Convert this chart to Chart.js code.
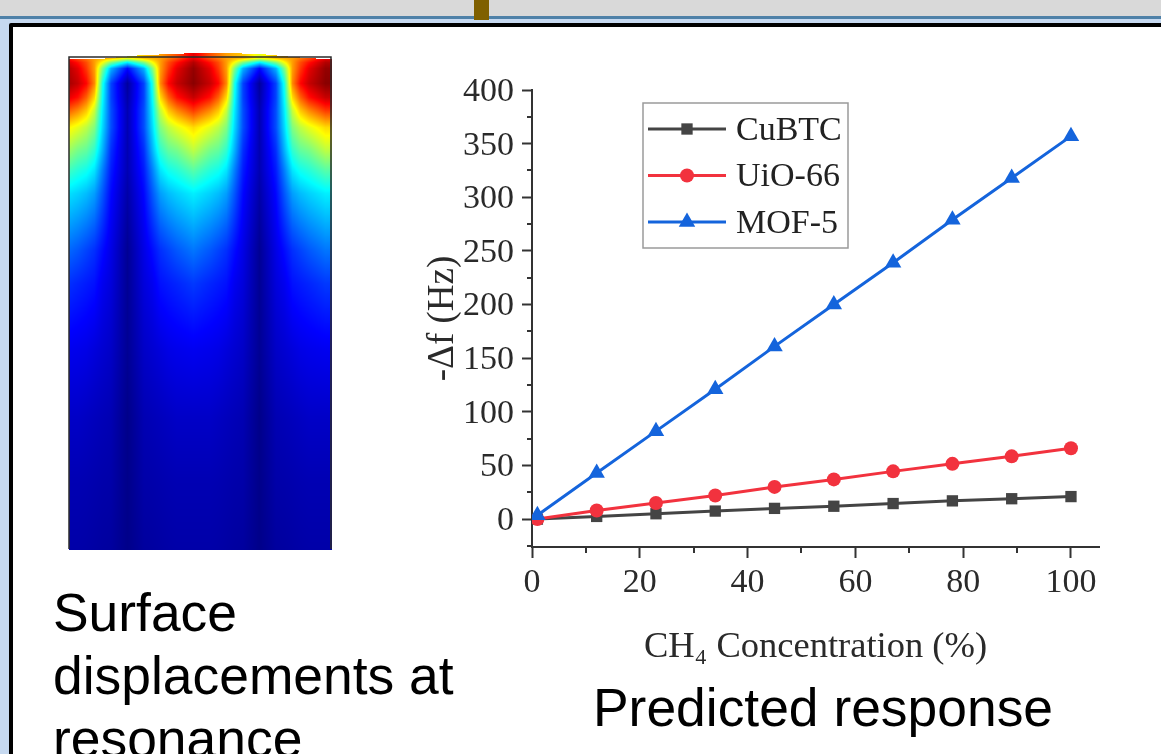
<!DOCTYPE html>
<html>
<head>
<meta charset="utf-8">
<title>Predicted response</title>
<script src="https://cdn.jsdelivr.net/npm/chart.js@4/dist/chart.umd.min.js"></script>
<style>
  html, body { margin: 0; width: 1161px; height: 754px; overflow: hidden; background: #c6d9f0; }
  #topbar { position: absolute; left: 0; top: 0; width: 1161px; height: 16px; background: #d9d9d9; border-bottom: 3px solid #4f81a8; }
  #tab { position: absolute; left: 474px; top: 0; width: 15px; height: 20px; background: #7f6000; }
  #frame { position: absolute; left: 9px; top: 23px; width: 1200px; height: 800px; background: #fff; border: 4px solid #000; border-radius: 2px; }
  canvas { position: absolute; }
  #heat { left: 67px; top: 53px; filter: blur(0.6px); }
  #response { left: 420px; top: 60px; filter: blur(0.7px); }
  .caption { position: absolute; font-family: "Liberation Sans", Arial, sans-serif; font-size: 53.4px; line-height: 63px; color: #000; }
  #cap1 { left: 53px; top: 581px; width: 420px; }
  #cap2 { left: 593px; top: 676px; white-space: nowrap; }
</style>
</head>
<body>
<div id="topbar"></div>
<div id="tab"></div>
<div id="frame"></div>
<canvas id="heat" width="266" height="497"></canvas>
<canvas id="response" width="700" height="640"></canvas>
<div class="caption" id="cap1">Surface displacements at resonance</div>
<div class="caption" id="cap2">Predicted response</div>

<script>
// values
const concentration = [1, 12, 23, 34, 45, 56, 67, 78, 89, 100];
const cubtc = [0, 2.5, 5, 7.5, 10, 12, 14.5, 17, 19, 21];
const uio66 = [0, 8, 15, 22, 30, 37, 44.5, 51.5, 58.5, 66];
const mof5 = [3.6, 43, 82, 121, 161, 200, 239, 279, 318, 357];

const xMajorTicks = [0, 20, 40, 60, 80, 100];
const xMinorTicks = [10, 30, 50, 70, 90];
const yMajorTicks = [0, 50, 100, 150, 200, 250, 300, 350, 400];
const yMinorTicks = [-25, 25, 75, 125, 175, 225, 275, 325, 375];

// displacement panel: depth below the surface, distance from the nearest node, colour level 0..1
const heatDepths = [1, 5, 11, 26, 40, 53, 70, 93, 113, 136, 193, 226, 293, 360, 426, 492];
const heatOffsets = [0, 16.5, 25, 33, 41, 49.5, 66];
const heatNodes = [58, 190];
const heatLevels = [
  [.60, .36, .13, .03, .04, .05, .05, .05, .05, .04, .02, .02, .02, .01, .01, .01],
  [.68, .50, .30, .19, .19, .20, .20, .17, .15, .13, .10, .09, .07, .05, .04, .03],
  [.70, .62, .50, .40, .38, .36, .34, .30, .25, .21, .135, .11, .08, .055, .042, .032],
  [.72, .72, .72, .74, .66, .57, .50, .42, .35, .28, .17, .14, .09, .06, .045, .035],
  [.76, .80, .82, .87, .78, .68, .56, .47, .39, .31, .19, .15, .10, .065, .048, .038],
  [.80, .86, .90, .93, .86, .74, .60, .49, .41, .33, .21, .16, .105, .07, .05, .04],
  [.90, .95, .98, .99, .93, .82, .66, .56, .46, .36, .24, .18, .11, .07, .05, .04]
];
// deformed top edge of the panel
const surfaceCross = [0, 36, 68, 100, 130, 160, 196, 230, 262];
const surfaceDepth = [3, 2, -1, -2.5, -3.5, -3.5, -2, 1, 3];

const SERIF = '"Liberation Serif", "Times New Roman", serif';
const AXIS = '#333';

function jet(v) {
  const ch = c => Math.max(0, Math.min(1, 1.5 - Math.abs(4 * v - c))) * 255;
  return [ch(3), ch(2), ch(1)];
}

function lookup(list, v) {
  let i = 0;
  while (i < list.length - 2 && list[i + 1] < v) i++;
  const t = (v - list[i]) / (list[i + 1] - list[i]);
  return [i, Math.max(0, Math.min(1, t))];
}

function heatAt(cross, depth) {
  const off = Math.min(...heatNodes.map(n => Math.abs(cross - n)));
  const [c, tc] = lookup(heatOffsets, Math.min(off, 66));
  const [r, tr] = lookup(heatDepths, depth);
  const top = heatLevels[c][r] * (1 - tc) + heatLevels[c + 1][r] * tc;
  const bot = heatLevels[c][r + 1] * (1 - tc) + heatLevels[c + 1][r + 1] * tc;
  return top * (1 - tr) + bot * tr;
}

function surfaceAt(cross) {
  const [i, t] = lookup(surfaceCross, cross);
  return surfaceDepth[i] * (1 - t) + surfaceDepth[i + 1] * t;
}

const heatRaster = {
  id: 'heatRaster',
  beforeDatasetsDraw(chart) {
    const { ctx, chartArea: a, scales } = chart;
    const w = Math.round(a.right - a.left), h = Math.round(a.bottom - a.top);
    const img = ctx.createImageData(w, h);
    for (let py = 0; py < h; py++) {
      const depth = scales.y.getValueForPixel(a.top + py);
      for (let px = 0; px < w; px++) {
        const cross = scales.x.getValueForPixel(a.left + px);
        if (cross < 0 || cross > 262 || depth > 492 || depth < surfaceAt(cross) - 1) continue;
        const rgb = jet(heatAt(cross, depth));
        const o = (py * w + px) * 4;
        img.data[o] = rgb[0]; img.data[o + 1] = rgb[1]; img.data[o + 2] = rgb[2]; img.data[o + 3] = 255;
      }
    }
    ctx.putImageData(img, a.left, a.top);

    // undeformed outline: left, top, right
    const left = scales.x.getPixelForValue(0), right = scales.x.getPixelForValue(262);
    const top = scales.y.getPixelForValue(0), bottom = scales.y.getPixelForValue(492);
    ctx.save();
    ctx.strokeStyle = '#2b2b2b';
    ctx.lineWidth = 1.5;
    ctx.beginPath();
    ctx.moveTo(left, bottom);
    ctx.lineTo(left, top);
    ctx.lineTo(right, top);
    ctx.lineTo(right, bottom);
    ctx.stroke();
    ctx.restore();
  }
};

new Chart(document.getElementById('heat'), {
  type: 'scatter',
  data: { datasets: [] },
  options: {
    responsive: false,
    animation: false,
    layout: { padding: 0 },
    plugins: { legend: { display: false }, tooltip: { enabled: false } },
    scales: {
      x: { display: false, min: -2, max: 264 },
      y: { display: false, min: -4, max: 493, reverse: true }
    }
  },
  plugins: [heatRaster]
});

// short ticks between the labelled ones
const minorTicks = {
  id: 'minorTicks',
  afterDraw(chart) {
    const { ctx, chartArea: a, scales } = chart;
    ctx.save();
    ctx.strokeStyle = AXIS;
    ctx.lineWidth = 2;
    ctx.beginPath();
    yMinorTicks.forEach(v => {
      const y = Math.round(scales.y.getPixelForValue(v));
      ctx.moveTo(a.left - 5, y);
      ctx.lineTo(a.left, y);
    });
    xMinorTicks.forEach(v => {
      const x = Math.round(scales.x.getPixelForValue(v));
      ctx.moveTo(x, a.bottom);
      ctx.lineTo(x, a.bottom + 6);
    });
    ctx.stroke();
    ctx.restore();
  }
};

// legend box with line + marker samples, the built-in one can't draw both
const lineLegend = {
  id: 'lineLegend',
  afterDraw(chart) {
    const { ctx } = chart;
    ctx.save();
    ctx.strokeStyle = '#9a9a9a';
    ctx.lineWidth = 1.5;
    ctx.strokeRect(223, 43, 205, 145);
    ctx.font = '34px ' + SERIF;
    ctx.textBaseline = 'middle';
    chart.data.datasets.forEach((ds, i) => {
      const y = 69 + i * 46.5;
      ctx.strokeStyle = ds.borderColor;
      ctx.lineWidth = ds.borderWidth;
      ctx.beginPath();
      ctx.moveTo(228, y);
      ctx.lineTo(306, y);
      ctx.stroke();
      ctx.fillStyle = ds.pointBackgroundColor;
      ctx.strokeStyle = ds.pointBackgroundColor;
      Chart.helpers.drawPoint(ctx, { pointStyle: ds.pointStyle, radius: ds.pointRadius, rotation: 0, borderWidth: 0 }, 267, y);
      ctx.fillStyle = '#222';
      ctx.fillText(ds.label, 316, y + 2);
    });
    ctx.restore();
  }
};

function series(label, data, color, pointStyle, pointRadius, order) {
  return {
    label,
    data: data.map((y, i) => ({ x: concentration[i], y })),
    borderColor: color,
    borderWidth: 3,
    pointBackgroundColor: color,
    pointBorderColor: color,
    pointBorderWidth: 0,
    pointStyle,
    pointRadius,
    order,
    showLine: true,
    tension: 0
  };
}

new Chart(document.getElementById('response'), {
  type: 'scatter',
  data: {
    datasets: [
      series('CuBTC', cubtc, '#444444', 'rect', 8, 3),
      series('UiO-66', uio66, '#f2323e', 'circle', 7, 2),
      series('MOF-5', mof5, '#1464dc', 'triangle', 9.5, 1)
    ]
  },
  options: {
    responsive: false,
    animation: false,
    layout: { padding: { top: 30, right: 21, left: 0, bottom: 0 } },
    plugins: { legend: { display: false }, tooltip: { enabled: false } },
    scales: {
      x: {
        type: 'linear',
        min: 0,
        max: 105.2,
        afterFit: s => { s.height = 153; },
        afterBuildTicks: s => { s.ticks = xMajorTicks.map(value => ({ value })); },
        border: { color: AXIS, width: 2 },
        grid: { drawOnChartArea: false, tickColor: AXIS, tickWidth: 2, tickLength: 11 },
        ticks: { color: '#2a2a2a', font: { family: SERIF, size: 34 }, padding: 5, maxRotation: 0, autoSkip: false },
        title: { display: true, text: 'CH₄ Concentration (%)', color: '#2a2a2a', font: { family: SERIF, size: 36.5 }, padding: { top: 0, bottom: 31 } }
      },
      y: {
        type: 'linear',
        min: -26,
        max: 400,
        afterFit: s => { s.width = 112; },
        afterBuildTicks: s => { s.ticks = yMajorTicks.map(value => ({ value })); },
        border: { color: AXIS, width: 2 },
        grid: { drawOnChartArea: false, tickColor: AXIS, tickWidth: 2, tickLength: 10 },
        ticks: { color: '#2a2a2a', font: { family: SERIF, size: 34 }, padding: 8, autoSkip: false, labelOffset: 2 },
        title: { display: true, text: '-Δf (Hz)', color: '#2a2a2a', font: { family: SERIF, size: 37 }, padding: { top: 1, bottom: 0 } }
      }
    }
  },
  plugins: [minorTicks, lineLegend]
});
</script>
</body>
</html>
